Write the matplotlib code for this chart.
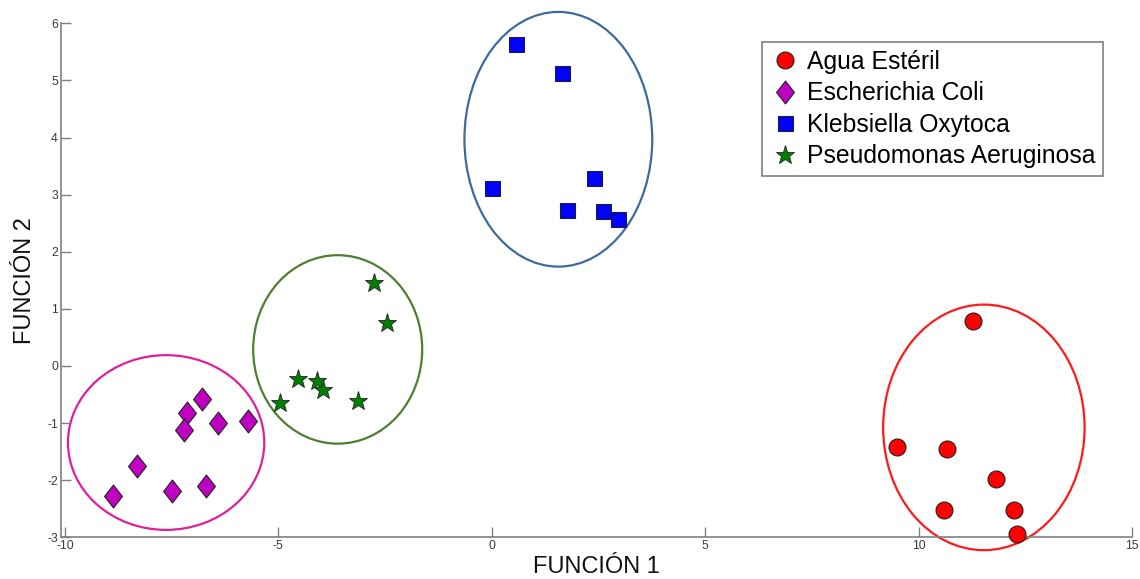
import matplotlib
matplotlib.use("Agg")
import matplotlib.pyplot as plt
from matplotlib.patches import Ellipse
from matplotlib.path import Path

plt.rcParams['font.family'] = ['Liberation Sans', 'DejaVu Sans']
plt.rcParams['axes.unicode_minus'] = False

# Discriminant scores (function 1, function 2) per group
agua_x = [11.28, 9.50, 10.67, 11.81, 10.60, 12.23, 12.31]
agua_y = [0.79, -1.41, -1.45, -1.98, -2.53, -2.52, -2.94]

coli_x = [-6.80, -7.13, -7.20, -6.42, -5.72, -8.31, -8.88, -7.49, -6.70]
coli_y = [-0.57, -0.82, -1.12, -1.00, -0.96, -1.75, -2.28, -2.19, -2.10]

kleb_x = [0.56, 1.65, 0.01, 2.39, 1.76, 2.61, 2.95]
kleb_y = [5.64, 5.13, 3.11, 3.29, 2.73, 2.71, 2.57]

pseudo_x = [-2.76, -2.46, -4.55, -4.09, -3.96, -4.97, -3.13]
pseudo_y = [1.46, 0.75, -0.22, -0.27, -0.42, -0.65, -0.61]

labels = ["Agua Estéril", "Escherichia Coli", "Klebsiella Oxytoca",
          "Pseudomonas Aeruginosa"]

# Group enclosures: centre (x, y) and semi-axes (x, y)
ell_centres = [(11.53, -1.075), (-7.63, -1.34), (1.56, 3.97), (-3.61, 0.29)]
ell_semi = [(2.36, 2.15), (2.30, 1.53), (2.20, 2.23), (1.98, 1.65)]

x_ticks = [-10, -5, 0, 5, 10, 15]
y_ticks = [-3, -2, -1, 0, 1, 2, 3, 4, 5, 6]

# tall diamond marker
diamond = Path([(0, 1), (0.78, 0), (0, -1), (-0.78, 0), (0, 1)],
               [Path.MOVETO, Path.LINETO, Path.LINETO, Path.LINETO, Path.CLOSEPOLY])

fig = plt.figure(figsize=(11.4, 5.79), dpi=100)
ax = fig.add_axes([0.05325, 0.0720, 0.9397, 0.8877])

ell_colors = ["#ff1a1a", "#e0209a", "#3d6b9b", "#4f7f30"]
for (cx, cy), (sx, sy), col in zip(ell_centres, ell_semi, ell_colors):
    ax.add_patch(Ellipse((cx, cy), 2 * sx, 2 * sy, fill=False, edgecolor=col,
                         linewidth=1.6, clip_on=False, zorder=1))

edge = "#222222"
ax.plot(agua_x, agua_y, linestyle="none", marker="o", markersize=12.2,
        markerfacecolor="#ff0000", markeredgecolor=edge, markeredgewidth=0.8,
        label=labels[0], zorder=3, clip_on=False)
ax.plot(coli_x, coli_y, linestyle="none", marker=diamond, markersize=16.5,
        markerfacecolor="#c000c0", markeredgecolor=edge, markeredgewidth=0.8,
        label=labels[1], zorder=3, clip_on=False)
ax.plot(kleb_x, kleb_y, linestyle="none", marker="s", markersize=10.8,
        markerfacecolor="#0000ff", markeredgecolor=edge, markeredgewidth=0.8,
        label=labels[2], zorder=3, clip_on=False)
ax.plot(pseudo_x, pseudo_y, linestyle="none", marker="*", markersize=14,
        markerfacecolor="#008000", markeredgecolor=edge, markeredgewidth=0.6,
        label=labels[3], zorder=3, clip_on=False)

ax.set_xlim(-10.1, 15)
ax.set_ylim(-3, 6)
ax.set_xticks(x_ticks)
ax.set_yticks(y_ticks)

for side in ("top", "right"):
    ax.spines[side].set_visible(False)
for side in ("left", "bottom"):
    ax.spines[side].set_color("#808080")
    ax.spines[side].set_linewidth(1.2)

ax.tick_params(direction="in", length=7, width=1.0, color="#808080",
               labelsize=8.8, labelcolor="#3a3a3a", pad=2)

ax.set_xlabel("FUNCIÓN 1", fontsize=17, color="#111111")
ax.xaxis.label.set_va("baseline")
ax.xaxis.set_label_coords(0.5, -0.0700)
ax.set_ylabel("FUNCIÓN 2", fontsize=17, color="#111111")
ax.yaxis.label.set_va("center")
ax.yaxis.set_label_coords(-0.033, 0.5)

leg = ax.legend(loc="upper left", bbox_to_anchor=(762 / 1140, 1 - 42 / 579),
                bbox_transform=fig.transFigure, borderaxespad=0,
                fontsize=17.8, frameon=True, fancybox=False, edgecolor="#808080",
                framealpha=1, handlelength=1.2, handletextpad=0.3,
                borderpad=0.32, labelspacing=0.3)
leg.get_frame().set_linewidth(1.2)

fig.savefig("out.png", dpi=100, facecolor="white")
